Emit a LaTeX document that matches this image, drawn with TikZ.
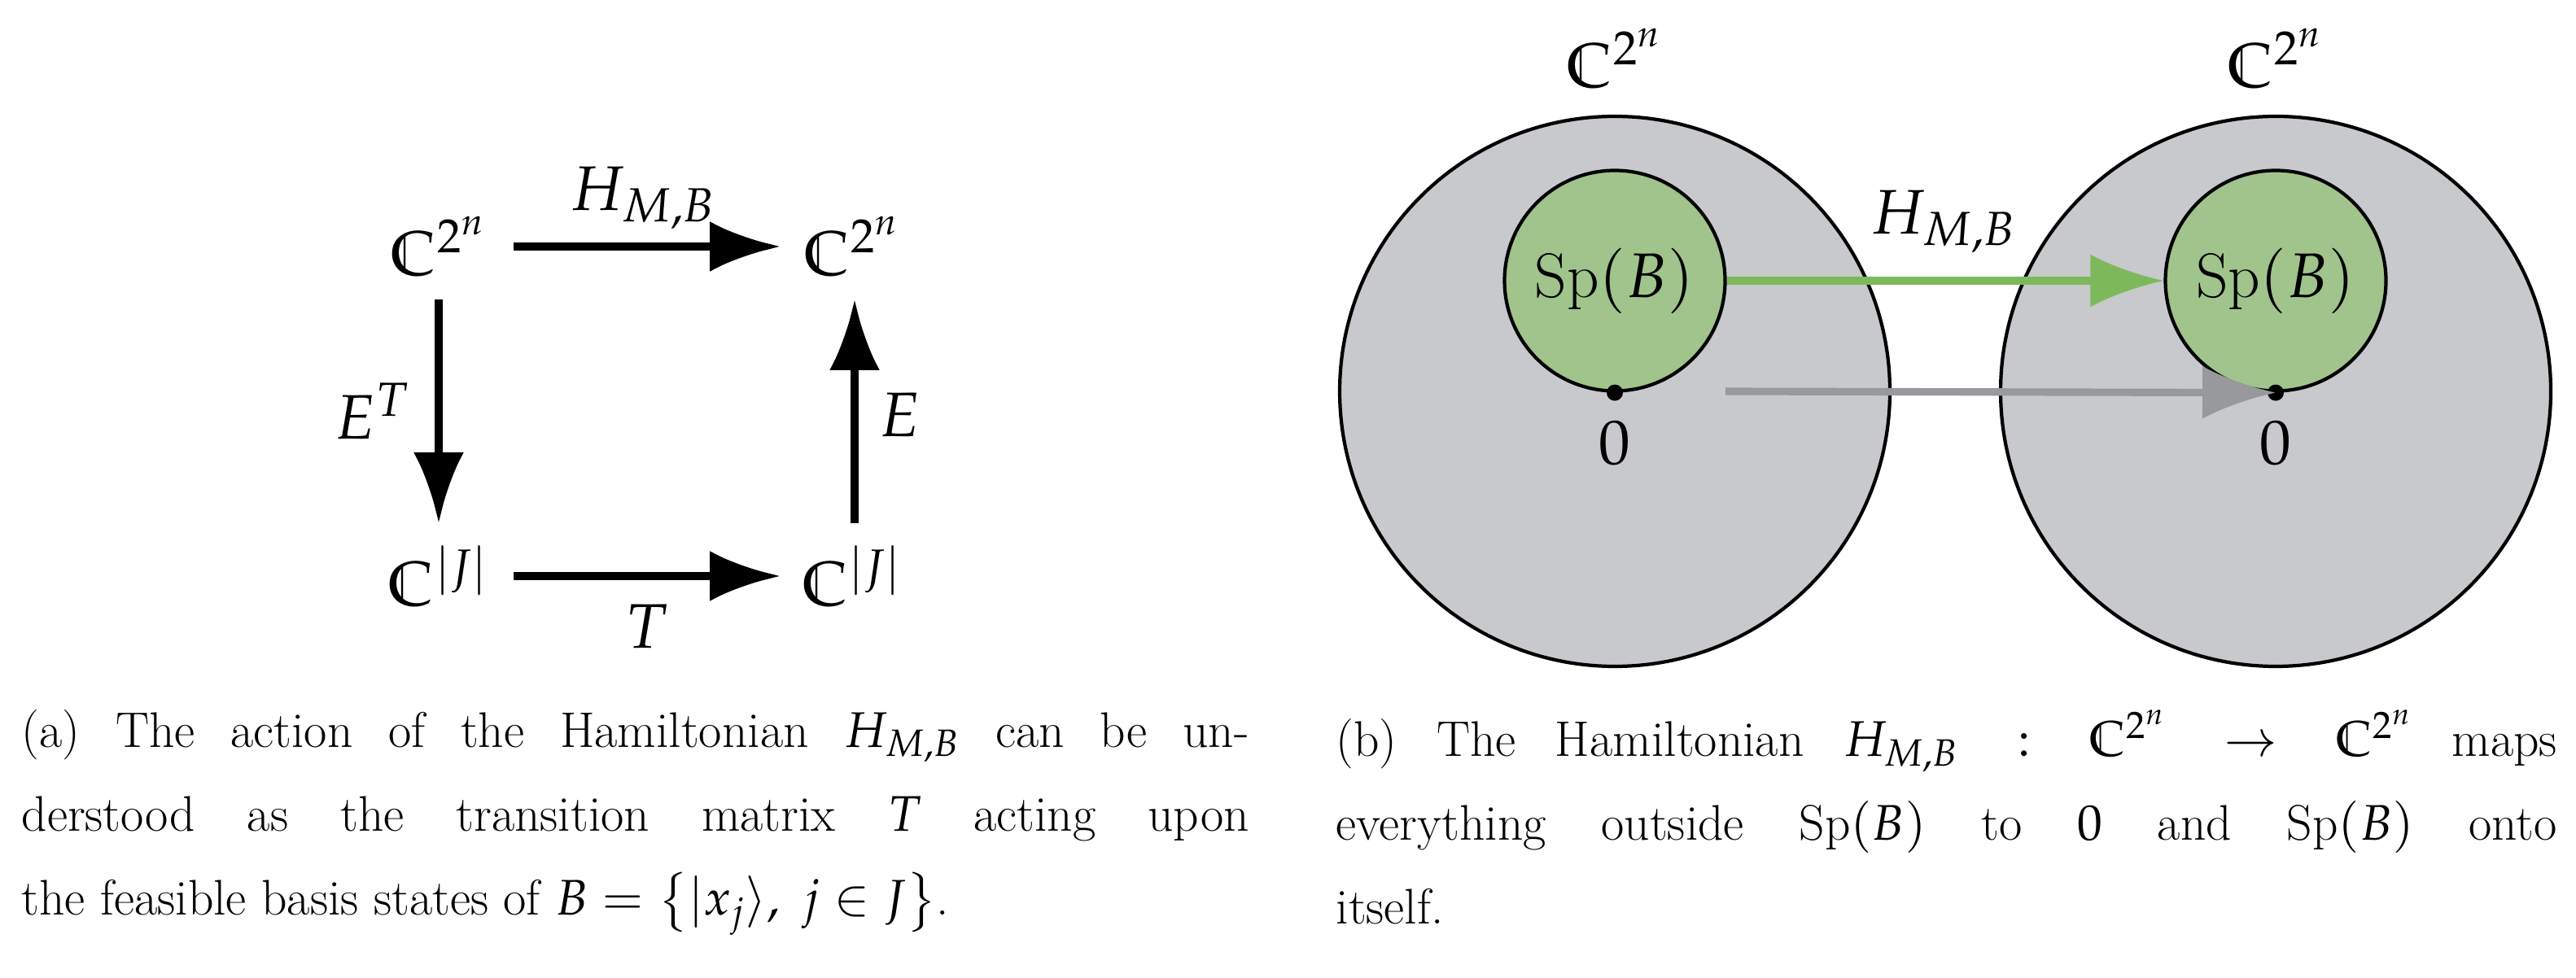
\documentclass[tikz,border=0pt]{standalone}
\usepackage{amssymb}
\usepackage{mathpazo}
\usetikzlibrary{arrows.meta}
\definecolor{cgray}{RGB}{200,201,204}
\definecolor{cgreen}{RGB}{160,196,140}
\definecolor{agreen}{RGB}{125,185,90}
\definecolor{agray}{RGB}{152,153,156}
\begin{document}
\begin{tikzpicture}[x=1cm,y=-1cm,
  lbl/.style={font=\fontsize{22}{26}\selectfont,inner sep=0pt},
  bigarr/.style={line width=3pt,-{Latex[length=8.7mm,width=6.2mm]}},
  smarr/.style={line width=2.6pt,-{Latex[length=9mm,width=6.5mm]}},
  bigcirc/.style={circle,draw,line width=1.2pt,fill=cgray,minimum size=6.76cm,inner sep=0pt},
  spcirc/.style={circle,draw,line width=1.2pt,fill=cgreen,minimum size=2.71cm,inner sep=0pt,font=\fontsize{22}{26}\selectfont},
  captxt/.style={anchor=north west,align=justify,font=\fontsize{17.5}{29.2}\selectfont,inner sep=0pt}]
\useasboundingbox (0,0) rectangle (31.65,12.02);
% (a)
\node[lbl] (tl) at (5.39,3.03) {$\mathbb{C}^{2^n}$};
\node[lbl] (tr) at (10.47,3.03) {$\mathbb{C}^{2^n}$};
\node[lbl] (bl) at (5.39,7.08) {$\mathbb{C}^{|J|}$};
\node[lbl] (br) at (10.47,7.08) {$\mathbb{C}^{|J|}$};
\coordinate (a1) at (6.31,3.03); \coordinate (a2) at (9.59,3.03);
\coordinate (b1) at (6.31,7.08); \coordinate (b2) at (9.59,7.08);
\coordinate (l1) at (5.39,3.68); \coordinate (l2) at (5.39,6.43);
\coordinate (r1) at (10.5,6.43); \coordinate (r2) at (10.5,3.68);
\draw[bigarr] (a1) -- (a2);
\draw[bigarr] (l1) -- (l2);
\draw[bigarr] (r1) -- (r2);
\draw[bigarr] (b1) -- (b2);
\node[lbl] (h) at (7.9,2.43) {$H_{M,B}$};
\node[lbl] (et) at (4.57,5.05) {$E^T$};
\node[lbl] (e) at (11.06,5.1) {$E$};
\node[lbl] (t) at (7.95,7.7) {$T$};
% (b)
\node[bigcirc] (c1) at (19.84,4.81) {};
\node[bigcirc] (c2) at (27.96,4.81) {};
\node[lbl] (k1) at (19.84,0.72) {$\mathbb{C}^{2^n}$};
\node[lbl] (k2) at (27.96,0.72) {$\mathbb{C}^{2^n}$};
\node[spcirc] (s1) at (19.84,3.45) {Sp$(B)$};
\node[spcirc] (s2) at (27.96,3.45) {Sp$(B)$};
\fill (s1.south) circle (0.1);
\fill (s2.south) circle (0.1);
\node[lbl] (z1) at (19.84,5.45) {$0$};
\node[lbl] (z2) at (27.96,5.45) {$0$};
\draw[smarr,agreen] (s1.east) -- (s2.west);
\node[lbl] (h2) at (23.88,2.72) {$H_{M,B}$};
\coordinate (g0) at (21.2,4.81);
\draw[smarr,agray] (g0) -- (s2.south);
% captions
\node[captxt,text width=15.08cm] (capa) at (0.26,8.72) {\parfillskip=0pt \textbf{(a)} The action of the Hamiltonian $H_{M,B}$ can be un-\linebreak derstood as the transition matrix $T$ acting upon\linebreak the feasible basis states of $B=\left\{|x_j\rangle,\ j\in J\right\}$.};
\node[captxt,text width=15.0cm] (capb) at (16.41,8.72) {\textbf{(b)} The Hamiltonian $H_{M,B}:\mathbb{C}^{2^n}\to\mathbb{C}^{2^n}$ maps\linebreak everything outside Sp$(B)$ to $0$ and Sp$(B)$ onto\linebreak itself.};
\end{tikzpicture}
\end{document}
